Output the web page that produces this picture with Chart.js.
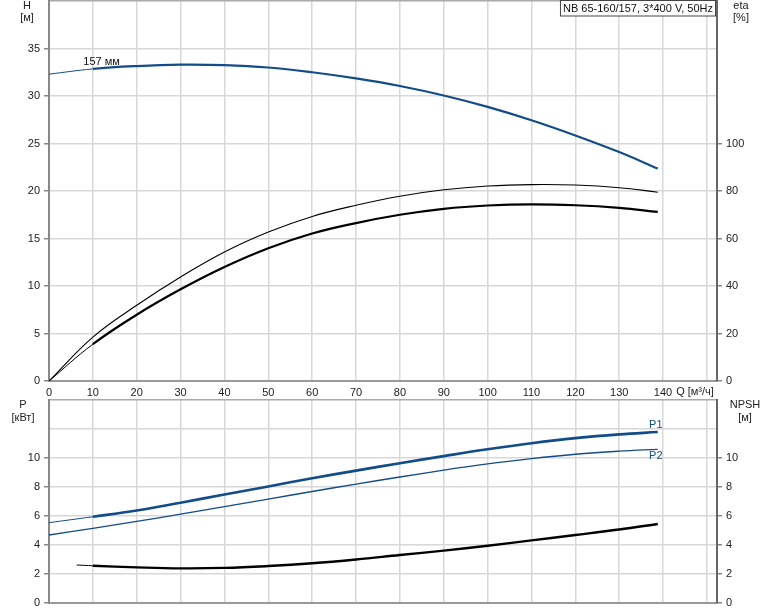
<!DOCTYPE html>
<html>
<head>
<meta charset="utf-8">
<script src="https://cdn.jsdelivr.net/npm/chart.js@4.4.1/dist/chart.umd.min.js"></script>
<style>
  body { margin: 0; background: #fff; }
  #wrap { position: relative; width: 774px; height: 611px; }
  canvas { position: absolute; left: 0; }
  #topChart { top: 0; }
  #bottomChart { top: 398px; }
</style>
</head>
<body>
<div id="wrap">
  <canvas id="topChart" width="774" height="398"></canvas>
  <canvas id="bottomChart" width="774" height="213"></canvas>
</div>
<script>
// flow Q [m3/h]
const flow = [0, 10, 20, 30, 40, 50, 60, 70, 80, 90, 100, 110, 120, 130, 138.8];
const head = [32.3, 32.85, 33.15, 33.3, 33.25, 33.0, 32.5, 31.85, 31.05, 30.05, 28.85, 27.45, 25.85, 24.1, 22.36];
const etaPump = [0, 18.5, 31.9, 43.8, 54.3, 62.7, 69.3, 74.0, 77.8, 80.5, 82.1, 82.7, 82.5, 81.4, 79.5];
const etaTotal = [0, 15.5, 27.9, 38.6, 48.0, 55.9, 62.1, 66.5, 70.0, 72.5, 73.9, 74.4, 74.0, 72.9, 71.2];
const powerP1 = [5.54, 5.95, 6.38, 6.92, 7.48, 8.04, 8.6, 9.13, 9.64, 10.13, 10.6, 11.02, 11.37, 11.63, 11.79];
const powerP2 = [4.69, 5.15, 5.63, 6.13, 6.65, 7.17, 7.69, 8.2, 8.69, 9.16, 9.59, 9.96, 10.26, 10.47, 10.6];
const npshFlow = [6.3, 10, 20, 30, 40, 50, 60, 70, 80, 90, 100, 110, 120, 130, 138.8];
const npsh = [2.62, 2.57, 2.46, 2.39, 2.42, 2.55, 2.74, 3.0, 3.31, 3.61, 3.95, 4.32, 4.69, 5.07, 5.45];

// tick labels that are printed
const qLabels = [0, 10, 20, 30, 40, 50, 60, 70, 80, 90, 100, 110, 120, 130, 140];
const hLabels = [0, 5, 10, 15, 20, 25, 30, 35];
const etaLabels = [0, 20, 40, 60, 80, 100];
const pLabels = [0, 2, 4, 6, 8, 10];
const npshLabels = [0, 2, 4, 6, 8, 10];

const opStart = 10; // thin line below this flow
const blue = '#124c89';
const gridColor = '#d8d8d8';
const textColor = '#222';
const font = { family: 'Arial, "Liberation Sans", sans-serif', size: 11 };

function pts(xs, ys) {
  return xs.map((x, i) => ({ x: x, y: ys[i] }));
}

function curve(data, color, thin, thick, axis) {
  return {
    data: data,
    yAxisID: axis,
    borderColor: color,
    borderWidth: thick,
    pointRadius: 0,
    fill: false,
    tension: 0.4,
    segment: {
      borderWidth: c => c.p1.parsed.x <= opStart ? thin : thick
    }
  };
}

function xScale(height, showLabels) {
  return {
    type: 'linear',
    min: 0,
    max: 152.3,
    ticks: {
      display: showLabels,
      stepSize: 10,
      includeBounds: false,
      autoSkip: false,
      maxRotation: 0,
      padding: 5,
      color: textColor,
      font: font,
      callback: v => qLabels.includes(v) ? String(v) : ''
    },
    grid: { color: gridColor, lineWidth: 1.5, drawTicks: false },
    border: { color: '#999', width: 2 },
    afterFit: s => { s.height = height; s.paddingLeft = 0; s.paddingRight = 0; }
  };
}

function yScale(pos, max, step, labels, width, drawGrid, borderColor) {
  return {
    type: 'linear',
    position: pos,
    min: 0,
    max: max,
    ticks: {
      stepSize: step,
      padding: 4,
      color: textColor,
      font: font,
      callback: v => labels.includes(v) ? String(v) : ''
    },
    grid: {
      drawOnChartArea: drawGrid,
      tickLength: 5,
      lineWidth: 1.5,
      color: c => c.tick && c.tick.value === max ? '#aaa' : gridColor,
      tickColor: c => c.tick && labels.includes(c.tick.value) ? '#888' : 'rgba(0,0,0,0)',
      tickWidth: 1.5
    },
    border: { color: borderColor, width: 2 },
    afterFit: s => { s.width = width; s.paddingTop = 0; s.paddingBottom = 0; }
  };
}

function textLine(ctx, str, x, y, color, align) {
  ctx.fillStyle = color || textColor;
  ctx.textAlign = align || 'center';
  ctx.textBaseline = 'middle';
  ctx.fillText(str, x, y);
}

const topLabels = {
  id: 'topLabels',
  afterDraw(chart) {
    const ctx = chart.ctx;
    const xs = chart.scales.x, ys = chart.scales.y;
    ctx.save();
    ctx.font = '11px Arial, "Liberation Sans", sans-serif';
    textLine(ctx, 'H', 27, 6);
    textLine(ctx, '[м]', 27, 18);
    textLine(ctx, 'eta', 741, 6);
    textLine(ctx, '[%]', 741, 18);
    textLine(ctx, 'Q [м³/ч]', 695, 392);
    textLine(ctx, '157 мм', xs.getPixelForValue(12), ys.getPixelForValue(33.5) - 1, '#111');
    // model box
    const title = 'NB 65-160/157, 3*400 V, 50Hz';
    const right = chart.chartArea.right - 1;
    const w = ctx.measureText(title).width + 6;
    ctx.fillStyle = '#fff';
    ctx.fillRect(right - w, 0, w, 16);
    ctx.strokeStyle = '#444';
    ctx.lineWidth = 1;
    ctx.strokeRect(right - w + 0.5, 0.5, w - 1, 15.5);
    textLine(ctx, title, right - w + 3, 8.5, '#111', 'left');
    ctx.restore();
  }
};

const bottomLabels = {
  id: 'bottomLabels',
  afterDraw(chart) {
    const ctx = chart.ctx;
    const xs = chart.scales.x, ys = chart.scales.y;
    ctx.save();
    ctx.font = '11px Arial, "Liberation Sans", sans-serif';
    textLine(ctx, 'P', 23, 7);
    textLine(ctx, '[кВт]', 23, 20);
    textLine(ctx, 'NPSH', 745, 7);
    textLine(ctx, '[м]', 745, 20);
    const last = flow.length - 1;
    const ex = xs.getPixelForValue(flow[last]);
    textLine(ctx, 'P1', ex - 2, ys.getPixelForValue(powerP1[last]) - 7, blue);
    textLine(ctx, 'P2', ex - 2, ys.getPixelForValue(powerP2[last]) + 7, blue);
    ctx.restore();
  }
};

const baseOptions = {
  responsive: false,
  animation: false,
  events: [],
  plugins: { legend: { display: false }, tooltip: { enabled: false } }
};

new Chart(document.getElementById('topChart'), {
  type: 'line',
  data: {
    datasets: [
      curve(pts(flow, head), blue, 1, 2.2, 'y'),
      curve(pts(flow, etaPump), '#000', 1.1, 1.1, 'y1'),
      curve(pts(flow, etaTotal), '#000', 1, 2.2, 'y1')
    ]
  },
  options: Object.assign({}, baseOptions, {
    layout: { padding: { top: 1, left: 0, right: 0, bottom: 0 } },
    scales: {
      x: xScale(17, true),
      y: yScale('left', 40, 5, hLabels, 49, true, '#888'),
      y1: yScale('right', 160, 20, etaLabels, 57, false, '#666')
    }
  }),
  plugins: [topLabels]
});

new Chart(document.getElementById('bottomChart'), {
  type: 'line',
  data: {
    datasets: [
      curve(pts(flow, powerP1), blue, 1, 2.6, 'y'),
      curve(pts(flow, powerP2), blue, 1.3, 1.3, 'y'),
      curve(pts(npshFlow, npsh), '#000', 1, 2.4, 'y1')
    ]
  },
  options: Object.assign({}, baseOptions, {
    layout: { padding: { top: 2, left: 0, right: 0, bottom: 0 } },
    scales: {
      x: xScale(8, false),
      y: yScale('left', 14, 2, pLabels, 49, true, '#888'),
      y1: yScale('right', 14, 2, npshLabels, 57, false, '#666')
    }
  }),
  plugins: [bottomLabels]
});
</script>
</body>
</html>
